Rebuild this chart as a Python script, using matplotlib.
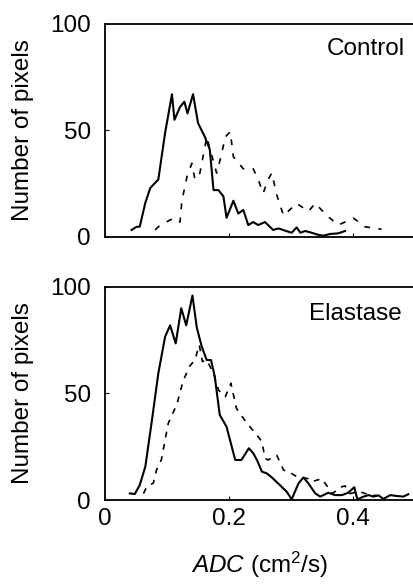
import matplotlib
matplotlib.use('Agg')
import matplotlib.pyplot as plt

plt.rcParams['font.family'] = ['Liberation Sans', 'DejaVu Sans']
plt.rcParams['mathtext.fontset'] = 'custom'
plt.rcParams['mathtext.rm'] = 'Liberation Sans'
plt.rcParams['mathtext.it'] = 'Liberation Sans:italic'

# Control panel, solid curve
control_solid_x = [0.043, 0.051, 0.056, 0.065, 0.073, 0.086, 0.097, 0.108, 0.112, 0.121,
                   0.128, 0.133, 0.142, 0.150, 0.161, 0.169, 0.175, 0.183, 0.191, 0.196,
                   0.207, 0.215, 0.223, 0.231, 0.239, 0.247, 0.258, 0.271, 0.280, 0.290,
                   0.301, 0.309, 0.315, 0.323, 0.333, 0.344, 0.352, 0.363, 0.376, 0.387]
control_solid_y = [3.3, 4.8, 4.8, 16, 23, 27, 49, 67, 55, 61,
                   63.5, 58, 67, 53.5, 47, 41, 22, 22, 19, 9,
                   17, 11, 12.7, 5.6, 7, 5.6, 7, 3.3, 4, 3,
                   2, 4.5, 2, 2.8, 2, 1, 0.6, 1.4, 1.7, 2.8]

# Control panel, dashed curve
control_dash_x = [0.081, 0.086, 0.105, 0.113, 0.121, 0.124, 0.132, 0.140, 0.145, 0.153,
                  0.159, 0.164, 0.172, 0.180, 0.187, 0.194, 0.202, 0.207, 0.223, 0.239,
                  0.247, 0.255, 0.263, 0.269, 0.277, 0.288, 0.309, 0.328, 0.339, 0.358,
                  0.376, 0.401, 0.419, 0.438, 0.446]
control_dash_y = [3.3, 4.8, 8, 8.8, 7, 17, 28, 34.6, 27, 30,
                  39, 47, 38.5, 30, 37.7, 47, 49.4, 37.7, 32, 32,
                  27, 20.5, 27, 30, 19.7, 10, 15.8, 12, 15.8, 10,
                  5.6, 8.8, 4.8, 4, 3.6]

# Elastase panel, solid curve
elastase_solid_x = [0.040, 0.048, 0.056, 0.065, 0.075, 0.086, 0.097, 0.105, 0.114, 0.123,
                    0.131, 0.141, 0.148, 0.156, 0.164, 0.171, 0.177, 0.185, 0.196, 0.210,
                    0.220, 0.232, 0.239, 0.245, 0.253, 0.261, 0.269, 0.282, 0.293, 0.301,
                    0.312, 0.320, 0.328, 0.339, 0.347, 0.360, 0.371, 0.382, 0.392, 0.402,
                    0.407, 0.417, 0.425, 0.433, 0.441, 0.449, 0.460, 0.470, 0.481, 0.489]
elastase_solid_y = [3.1, 2.8, 7, 15.6, 36, 59.5, 76.7, 82, 73.5, 90,
                    82, 96, 81, 72, 65.7, 65.7, 58, 40, 34.4, 18.8,
                    18.8, 24.3, 22, 18.8, 13.3, 12.5, 10.6, 7, 3.9, 0.3,
                    7.8, 10.6, 7.8, 3.1, 1.6, 3.4, 2.3, 2.3, 3.4, 6,
                    0.3, 1.6, 2.3, 1.6, 2.2, 0.5, 2.3, 1.9, 1.6, 2.7]

# Elastase panel, dashed curve
elastase_dash_x = [0.062, 0.067, 0.078, 0.083, 0.091, 0.102, 0.116, 0.126, 0.137, 0.145,
                   0.152, 0.157, 0.164, 0.175, 0.183, 0.194, 0.203, 0.212, 0.229, 0.247,
                   0.253, 0.258, 0.263, 0.277, 0.288, 0.296, 0.309, 0.328, 0.333, 0.350,
                   0.355, 0.367, 0.379, 0.387, 0.395, 0.410, 0.425, 0.440]
elastase_dash_y = [3, 6, 8, 14, 19, 36, 45, 56, 63, 65.7,
                   72.8, 65, 65.7, 59.5, 51.6, 48.5, 54.8, 43, 36, 29.7,
                   27.4, 19.6, 18.8, 21, 14, 13.3, 11, 10, 8.6, 10,
                   7.8, 3, 6, 6.6, 3, 4, 2.5, 2]

x_ticks = [0, 0.2, 0.4]
x_labels = ['0', '0.2', '0.4']
y_ticks = [0, 50, 100]
panel_names = ['Control', 'Elastase']

FS = 17.5


def style_axis(ax, show_xlabels):
    ax.set_xlim(0, 0.5)
    ax.set_ylim(0, 100)
    ax.set_xticks(x_ticks)
    ax.set_yticks(y_ticks)
    if show_xlabels:
        ax.set_xticklabels(x_labels)
    else:
        ax.set_xticklabels([])
    ax.tick_params(direction='in', length=3, width=0.8, labelsize=FS, pad=6)
    ax.tick_params(axis='y', pad=10)
    ax.spines['right'].set_visible(False)
    for s in ['left', 'top', 'bottom']:
        ax.spines[s].set_linewidth(1.3)
    ax.set_ylabel('Number of pixels', fontsize=FS)
    ax.yaxis.set_label_coords(-0.23, 0.5)


def main():
    fig = plt.figure(figsize=(4.14, 5.87), dpi=100)
    ax1 = fig.add_axes([0.2536, 0.5963, 0.749, 0.3629])
    ax2 = fig.add_axes([0.2536, 0.1482, 0.749, 0.3629])

    ax1.plot(control_solid_x, control_solid_y, '-', color='black', lw=1.5)
    ax1.plot(control_dash_x, control_dash_y, color='black', lw=1.2,
             linestyle=(0, (3.5, 5)))
    ax2.plot(elastase_solid_x, elastase_solid_y, '-', color='black', lw=1.5)
    ax2.plot(elastase_dash_x, elastase_dash_y, color='black', lw=1.2,
             linestyle=(0, (3.5, 4)))

    style_axis(ax1, False)
    style_axis(ax2, True)

    ax1.text(0.968, 0.855, panel_names[0], transform=ax1.transAxes,
             ha='right', va='baseline', fontsize=FS)
    ax2.text(0.958, 0.845, panel_names[1], transform=ax2.transAxes,
             ha='right', va='baseline', fontsize=FS)

    ax2.set_xlabel(r'$\it{ADC}$ (cm$^2$/s)', fontsize=FS, labelpad=14)

    fig.savefig('out.png', dpi=100)


if __name__ == "__main__": main()
